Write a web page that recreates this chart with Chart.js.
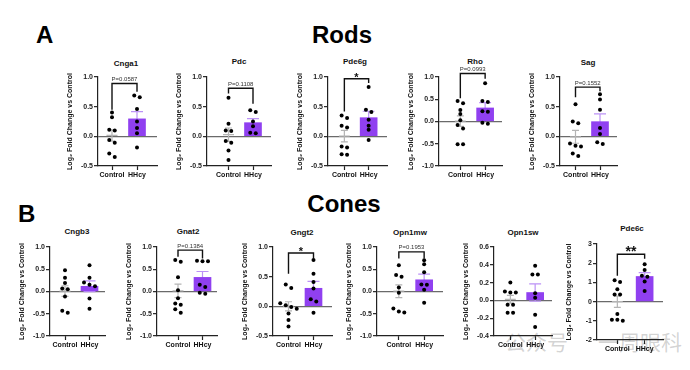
<!DOCTYPE html>
<html>
<head>
<meta charset="utf-8">
<script src="https://cdn.jsdelivr.net/npm/chart.js@4.4.1/dist/chart.umd.min.js"></script>
<style>
  body { margin: 0; width: 690px; height: 370px; position: relative; overflow: hidden; background: #fff;
         font-family: 'Liberation Sans', Arial, sans-serif; }
  .abs { position: absolute; white-space: nowrap; line-height: 1; }
  .hdr { font-weight: bold; font-size: 24px; color: #000; }
  .ttl { font-weight: bold; font-size: 8px; color: #111; transform: translate(-50%, -50%); }
  .wm { font-family: 'Noto Sans CJK SC', sans-serif; color: rgba(120,120,120,0.32); font-size: 21px; }
  canvas { position: absolute; }
</style>
</head>
<body>
<div class="abs hdr" style="left:36px;top:23px">A</div>
<div class="abs hdr" style="left:342px;top:23px;transform:translateX(-50%)">Rods</div>
<div class="abs hdr" style="left:18px;top:202px">B</div>
<div class="abs hdr" style="left:344px;top:192px;transform:translateX(-50%)">Cones</div>
<div class="abs wm" style="left:505px;top:331px">公众号</div>
<div class="abs wm" style="left:598px;top:331px">一周眼科</div>

<script>
// log2 fold change vs control, one dot per animal
const groups = ['Control', 'HHcy'];

// Rods
const cnga1Control  = [0.40, 0.32, 0.11, 0.10, -0.06, -0.11, -0.29, -0.35];
const cnga1HHcy     = [0.69, 0.66, 0.46, 0.25, 0.14, 0.05, -0.19];
const pdcControl    = [0.65, 0.21, 0.10, 0.09, -0.08, -0.11, -0.24, -0.40];
const pdcHHcy       = [0.44, 0.41, 0.25, 0.17, 0.06, 0.05];
const pde6gControl  = [0.35, 0.31, 0.18, 0.15, -0.17, -0.19, -0.30, -0.31];
const pde6gHHcy     = [0.83, 0.45, 0.41, 0.28, 0.18, 0.11, -0.06];
const rhoControl    = [0.46, 0.41, 0.26, 0.17, 0.03, -0.08, -0.16, -0.51, -0.51];
const rhoHHcy       = [0.86, 0.46, 0.44, 0.23, 0.22, -0.03, -0.05];
const sagControl    = [0.54, 0.25, 0.22, -0.12, -0.16, -0.17, -0.29, -0.33];
const sagHHcy       = [0.71, 0.62, 0.45, 0.14, 0.04, -0.10, -0.13];

// Cones
const cngb3Control  = [0.48, 0.31, 0.19, 0.07, 0.05, -0.11, -0.43, -0.48];
const cngb3HHcy     = [0.59, 0.31, 0.20, 0.15, 0.12, -0.16, -0.39];
const gnat2Control  = [0.71, 0.67, 0.32, 0.03, -0.15, -0.27, -0.30, -0.40, -0.48];
const gnat2HHcy     = [0.69, 0.68, 0.68, 0.15, 0.10, -0.03, -0.05];
const gngt2Control  = [0.37, 0.31, 0.05, 0.02, -0.01, -0.04, -0.12, -0.23, -0.34];
const gngt2HHcy     = [0.78, 0.55, 0.41, 0.30, 0.12, 0.08, -0.11];
const opn1mwControl = [0.59, 0.37, 0.33, 0.09, -0.03, -0.38, -0.45, -0.47];
const opn1mwHHcy    = [0.70, 0.61, 0.43, 0.16, 0.15, 0.04, -0.25];
const opn1swControl = [0.20, 0.10, 0.09, 0.09, -0.05, -0.05, -0.14, -0.14];
const opn1swHHcy    = [0.39, 0.29, 0.29, 0.08, 0.03, -0.16, -0.30];
const pde6cControl  = [1.11, 1.02, 0.64, 0.37, 0.37, -0.64, -0.95, -0.95, -1.00];
const pde6cHHcy     = [1.95, 1.65, 1.35, 1.30, 1.05, 0.55];

// significance labels
const sigLabels = {
  cnga1: 'P=0.0587', pdc: 'P=0.1108', pde6g: '*', rho: 'P=0.0993', sag: 'P=0.1552',
  gnat2: 'P=0.1384', gngt2: '*', opn1mw: 'P=0.1953', pde6c: '**'
};

// y axis ranges: [min, max, step, decimals]
const yRange1 = [-0.5, 1, 0.5, 1];
const yRange2 = [-1, 1, 0.5, 1];
const yRangeSw = [-0.4, 0.6, 0.2, 1];
const yRangePde6c = [-2, 3, 1, 0];

const PURPLE = '#9040F0';
const FONT = "'Liberation Sans', Arial, sans-serif";
Chart.defaults.font.family = FONT;

// layout of each small panel (pixels on the page); bracket = [left leg, top, right leg] in data units
const panels = [
  { key: 'cnga1', title: 'Cnga1', ctrl: cnga1Control, hh: cnga1HHcy, range: yRange1, top: 77, bottom: 166,
    axis: 98, cx: 112, hx: 137, end: 157, tx: 126, ty: 64, bracket: [0.45, 0.89, 0.75] },
  { key: 'pdc', title: 'Pdc', ctrl: pdcControl, hh: pdcHHcy, range: yRange1, top: 77, bottom: 166,
    axis: 207, cx: 228.5, hx: 253, end: 271, tx: 239, ty: 62, bracket: [0.72, 0.81, 0.55] },
  { key: 'pde6g', title: 'Pde6g', ctrl: pde6gControl, hh: pde6gHHcy, range: yRange1, top: 77, bottom: 166,
    axis: 327.5, cx: 344, hx: 368.5, end: 387, tx: 355, ty: 62, bracket: [0.42, 0.97, 0.90] },
  { key: 'rho', title: 'Rho', ctrl: rhoControl, hh: rhoHHcy, range: yRange2, top: 77, bottom: 166,
    axis: 438.5, cx: 460, hx: 485, end: 502, tx: 475, ty: 62, bracket: [0.52, 1.08, 0.96] },
  { key: 'sag', title: 'Sag', ctrl: sagControl, hh: sagHHcy, range: yRange1, top: 77, bottom: 166,
    axis: 560, cx: 575.5, hx: 600, end: 617, tx: 588, ty: 63, bracket: [0.66, 0.83, 0.76] },

  { key: 'cngb3', title: 'Cngb3', ctrl: cngb3Control, hh: cngb3HHcy, range: yRange2, top: 247, bottom: 336,
    axis: 50, cx: 65, hx: 89.5, end: 105, tx: 77, ty: 232, bracket: null },
  { key: 'gnat2', title: 'Gnat2', ctrl: gnat2Control, hh: gnat2HHcy, range: yRange2, top: 247, bottom: 336,
    axis: 157, cx: 178, hx: 202.5, end: 217, tx: 188, ty: 232, bracket: [0.78, 0.93, 0.74] },
  { key: 'gngt2', title: 'Gngt2', ctrl: gngt2Control, hh: gngt2HHcy, range: yRange1, top: 247, bottom: 336,
    axis: 273, cx: 288.5, hx: 313.5, end: 332, tx: 302, ty: 233, bracket: [0.55, 0.90, 0.81] },
  { key: 'opn1mw', title: 'Opn1mw', ctrl: opn1mwControl, hh: opn1mwHHcy, range: yRange2, top: 247, bottom: 336,
    axis: 377, cx: 399, hx: 424.5, end: 443.5, tx: 410, ty: 233, bracket: [0.74, 0.89, 0.74] },
  { key: 'opn1sw', title: 'Opn1sw', ctrl: opn1swControl, hh: opn1swHHcy, range: yRangeSw, top: 247, bottom: 336,
    axis: 493.5, cx: 510, hx: 535, end: 552, tx: 523, ty: 233, bracket: null },
  { key: 'pde6c', title: 'Pde6c', ctrl: pde6cControl, hh: pde6cHHcy, range: yRangePde6c, top: 243.5, bottom: 339.5,
    axis: 597, cx: 617.5, hx: 645, end: 663.5, tx: 632, ty: 229, bracket: [1.35, 2.47, 2.23] }
];

function mean(a) { return a.reduce((s, v) => s + v, 0) / a.length; }
function sem(a) {
  const m = mean(a);
  return Math.sqrt(a.reduce((s, v) => s + (v - m) ** 2, 0) / (a.length - 1) / a.length);
}

// spread dots that sit at about the same height (like a scatter dot plot)
function spread(values, x0, pxPerY, pxPerX) {
  const idx = values.map((v, i) => i).sort((a, b) => values[b] - values[a]);
  const out = [];
  let cluster = [];
  const flush = () => {
    cluster.forEach((i, j) => {
      const off = (j - (cluster.length - 1) / 2) * 5.5 / pxPerX;
      out.push({ x: x0 + off, y: values[i] });
    });
    cluster = [];
  };
  idx.forEach(i => {
    if (cluster.length && Math.abs(values[cluster[cluster.length - 1]] - values[i]) * pxPerY > 4) flush();
    cluster.push(i);
  });
  flush();
  return out;
}

function errorLines(values, x0, capHalf, meanHalf) {
  const m = mean(values), s = sem(values);
  const gap = { x: x0, y: null };
  const pts = [
    { x: x0, y: m - s }, { x: x0, y: m + s }, gap,
    { x: x0 - capHalf, y: m + s }, { x: x0 + capHalf, y: m + s }, gap,
    { x: x0 - capHalf, y: m - s }, { x: x0 + capHalf, y: m - s }
  ];
  if (meanHalf) pts.push(gap, { x: x0 - meanHalf, y: m }, { x: x0 + meanHalf, y: m });
  return pts;
}

const sigLabel = {
  id: 'sigLabel',
  afterDatasetsDraw(chart, args, opts) {
    if (!opts.text) return;
    const { ctx, scales: { x, y } } = chart;
    const px = x.getPixelForValue(0.5);
    const py = y.getPixelForValue(opts.level);
    ctx.save();
    ctx.textAlign = 'center';
    ctx.textBaseline = 'alphabetic';
    if (opts.text.startsWith('P')) {
      ctx.font = '6px ' + FONT;
      ctx.fillStyle = '#333';
      ctx.fillText(opts.text, px, py - 2.5);
    } else {
      const size = opts.text.length > 1 ? 14 : 11;
      ctx.font = 'bold ' + size + 'px ' + FONT;
      ctx.fillStyle = '#111';
      ctx.fillText(opts.text, px, py + 2);
    }
    ctx.restore();
  }
};

function makePanel(p) {
  const W = 32, P = 20, H = 20, R = 14;
  const u = p.hx - p.cx;                       // px per x unit
  const xMin = (p.axis - p.cx) / u;
  const xMax = 1 + (p.end - p.hx) / u;
  const [yMin, yMax, step, dec] = p.range;
  const pxPerY = (p.bottom - p.top) / (yMax - yMin);

  const title = document.createElement('div');
  title.className = 'abs ttl';
  title.style.left = p.tx + 'px';
  title.style.top = p.ty + 'px';
  title.textContent = p.title;
  document.body.appendChild(title);

  const canvas = document.createElement('canvas');
  canvas.width = W + (p.end - p.axis) + R;
  canvas.height = P + (p.bottom - p.top) + H;
  canvas.style.left = (p.axis - W) + 'px';
  canvas.style.top = (p.top - P) + 'px';
  document.body.appendChild(canvas);

  const datasets = [
    { type: 'scatter', data: spread(p.ctrl, 0, pxPerY, u).concat(spread(p.hh, 1, pxPerY, u)),
      pointRadius: 2, pointBackgroundColor: '#000', pointBorderWidth: 0, order: 0 },
    { type: 'bar', data: [{ x: 1, y: mean(p.hh) }], backgroundColor: PURPLE, borderWidth: 0,
      barThickness: 17, order: 2 },
    { type: 'line', data: errorLines(p.hh, 1, 6 / u, 0), borderColor: '#BC92F6', borderWidth: 1.2,
      pointRadius: 0, spanGaps: false, tension: 0, order: 3 },
    { type: 'line', data: errorLines(p.ctrl, 0, 3.5 / u, 5.5 / u), borderColor: '#B4B4B4', borderWidth: 1.2,
      pointRadius: 0, spanGaps: false, tension: 0, order: 3 }
  ];
  if (p.bracket) {
    const [l, t, r] = p.bracket;
    datasets.push({ type: 'line', data: [{ x: 0, y: l }, { x: 0, y: t }, { x: 1, y: t }, { x: 1, y: r }],
      borderColor: '#111', borderWidth: 1.4, pointRadius: 0, tension: 0, clip: false, order: 1 });
  }

  new Chart(canvas, {
    type: 'scatter',
    data: { datasets },
    plugins: [sigLabel],
    options: {
      responsive: false,
      animation: false,
      events: [],
      layout: { padding: { top: P, right: R, left: 0, bottom: 0 } },
      plugins: {
        legend: { display: false },
        tooltip: { enabled: false },
        sigLabel: { text: p.bracket ? sigLabels[p.key] : '', level: p.bracket ? p.bracket[1] : 0 }
      },
      scales: {
        x: {
          type: 'linear', min: xMin, max: xMax, offset: false,
          afterFit: s => { s.height = H; },
          afterBuildTicks: s => { s.ticks = [{ value: 0 }, { value: 1 }]; },
          grid: { offset: false, drawOnChartArea: false, tickColor: '#222', tickLength: 4, tickWidth: 1.2 },
          border: { color: '#222', width: 1.2 },
          ticks: { autoSkip: false, maxRotation: 0, padding: 1, color: '#111',
                   font: { size: 7, weight: 'bold' }, callback: v => groups[v] || '' }
        },
        y: {
          type: 'linear', min: yMin, max: yMax,
          afterFit: s => { s.width = W; },
          grid: {
            color: c => Math.abs(c.tick.value) < 1e-9 ? '#6a6a6a' : 'rgba(0,0,0,0)',
            lineWidth: 1.3, tickColor: '#222', tickLength: 4, tickWidth: 1.2
          },
          border: { color: '#222', width: 1.2 },
          ticks: { stepSize: step, padding: 1, color: '#222', font: { size: 7, weight: 'bold' },
                   callback: v => (Math.abs(v) < 1e-9 ? 0 : v).toFixed(dec) },
          title: { display: true, text: 'Log₂ Fold Change vs Control', color: '#111',
                   font: { size: 7, weight: 'bold' }, padding: 0 }
        }
      }
    }
  });
}

panels.forEach(makePanel);
</script>
</body>
</html>
